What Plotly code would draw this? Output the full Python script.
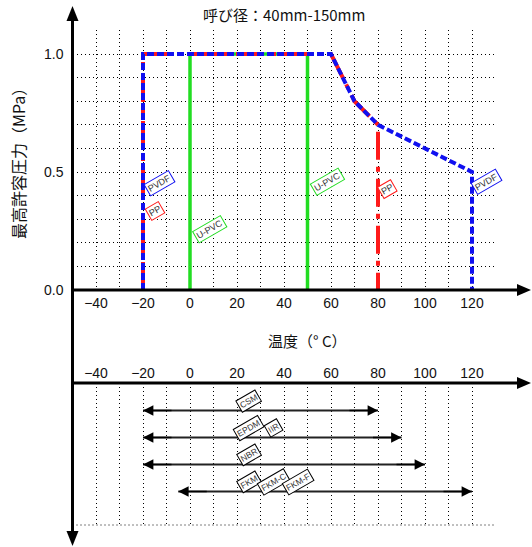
import plotly.graph_objects as go

# ---------------- data ----------------
temp_grid = list(range(-50, 131, 10))
temp_tick_values = [-40, -20, 0, 20, 40, 60, 80, 100, 120]
pressure_grid = [round(0.1 * i, 1) for i in range(0, 12)]
pressure_tick_values = [0.0, 0.5, 1.0]

upvc_temp = [0, 0, 50, 50]
upvc_pressure = [0.0, 1.0, 1.0, 0.0]
pp_temp = [-20, -20, 60, 70, 80, 80]
pp_pressure = [0.0, 1.0, 1.0, 0.8, 0.7, 0.0]
pvdf_temp = [-20, -20, 60, 70, 80, 120, 120]
pvdf_pressure = [0.0, 1.0, 1.0, 0.8, 0.7, 0.5, 0.0]

seal_groups = [["CSM"], ["EPDM", "IIR"], ["NBR"], ["FKM", "FKM-C", "FKM-F"]]
seal_tmin = [-20, -20, -20, -5]
seal_tmax = [80, 90, 100, 120]

title_text = "呼び径：40mm-150mm"
ytitle_text = "最高許容圧力（MPa）"
xtitle_text = "温度（° C）"

# ---------------- style ----------------
W, H = 532, 547
FONT = "Liberation Sans, Noto Sans CJK JP, sans-serif"
JP = "Noto Sans CJK JP, Liberation Sans, sans-serif"
GREEN, RED, BLUE = "#22dd22", "#ff1a1a", "#1010f0"
DOT = "1px,3px"

def px(x):
    return x / W

def py(y):
    return 1 - y / H

def fmt(v):
    return str(v).replace("-", "\u2212")

temp_text = [fmt(t) if t in temp_tick_values else "" for t in temp_grid]
pres_text = [f"{p:.1f}" if p in pressure_tick_values else "" for p in pressure_grid]

X0, X1 = 72.5, 495.5          # pixel span of -50..130
TOP_Y0, TOP_Y1 = 290, 30.4    # pixel span of 0..1.1
BOT_Y0, BOT_Y1 = 383, 525
ROW_OFF, ROW_STEP = 383.5, 27.0

fig = go.Figure()

# top chart
fig.add_trace(go.Scatter(x=upvc_temp, y=upvc_pressure, mode="lines",
                         line=dict(color=GREEN, width=3.5), xaxis="x", yaxis="y"))
fig.add_trace(go.Scatter(x=pp_temp, y=pp_pressure, mode="lines",
                         line=dict(color=RED, width=4, dash="28px,7px,5px,7px"),
                         xaxis="x", yaxis="y"))
fig.add_trace(go.Scatter(x=pvdf_temp, y=pvdf_pressure, mode="lines",
                         line=dict(color=BLUE, width=4, dash="7px,3px"),
                         xaxis="x", yaxis="y"))

annotations = []

def tag(text, x, y, color, size=9, xref="x", yref="y"):
    annotations.append(dict(text=text, x=x, y=y, xref=xref, yref=yref, showarrow=False,
                            textangle=-30, font=dict(family=FONT, size=size, color="#333"),
                            bordercolor=color, borderwidth=1, borderpad=1, bgcolor="white",
                            xanchor="center", yanchor="middle"))

tag("PVDF", -12.8, 0.453, BLUE)
tag("PP", -14.9, 0.335, RED)
tag("U-PVC", 8.5, 0.26, GREEN)
tag("U-PVC", 58.3, 0.458, GREEN)
tag("PP", 84, 0.43, RED)
tag("PVDF", 126, 0.458, BLUE)

# bottom chart
for i, (names, lo, hi) in enumerate(zip(seal_groups, seal_tmin, seal_tmax)):
    row = i + 1
    fig.add_trace(go.Scatter(x=[lo, hi], y=[row, row], mode="lines",
                             line=dict(color="#222", width=1.8), xaxis="x2", yaxis="y2"))
    for tip, off in ((hi, -30), (lo, 30)):
        annotations.append(dict(x=tip, y=row, xref="x2", yref="y2", ax=off, ay=0,
                                text="", showarrow=True, arrowhead=2, arrowsize=1.3,
                                arrowwidth=1.6, arrowcolor="black", standoff=0))
    for j, n in enumerate(names):
        tag(n, 25 + 10.5 * j, row - 0.36, "black", size=8.5, xref="x2", yref="y2")

# titles
def title(text, x, y, size, angle=0):
    annotations.append(dict(text=text, x=px(x), y=py(y), xref="paper", yref="paper",
                            showarrow=False, textangle=angle, xanchor="center",
                            yanchor="middle", font=dict(family=JP, size=size, color="#111")))

title(title_text, 284, 14, 15)
title(ytitle_text, 18, 160, 16, -90)
title(xtitle_text, 307, 340, 15)

# axis lines + arrow heads
shapes = []
def line(x0, y0, x1, y1, w=3):
    shapes.append(dict(type="line", xref="paper", yref="paper", x0=px(x0), y0=py(y0),
                       x1=px(x1), y1=py(y1), line=dict(color="black", width=w)))

def tri(pts):
    path = "M " + " L ".join(f"{px(a)},{py(b)}" for a, b in pts) + " Z"
    shapes.append(dict(type="path", xref="paper", yref="paper", path=path,
                       fillcolor="black", line=dict(color="black", width=0)))

line(X0, 20, X0, 533)
line(X0, TOP_Y0, 519, TOP_Y0)
line(X0, BOT_Y0, 519, BOT_Y0)
tri([(X0, 6), (X0 - 6, 21), (X0 + 6, 21)])
tri([(X0, 546), (X0 - 6, 531), (X0 + 6, 531)])
tri([(531, TOP_Y0), (517, TOP_Y0 - 6), (517, TOP_Y0 + 6)])
tri([(531, BOT_Y0), (517, BOT_Y0 - 6), (517, BOT_Y0 + 6)])
shapes.append(dict(type="line", xref="x2", yref="y2 domain", x0=-50, x1=130, y0=0, y1=0,
                   line=dict(color="black", width=1, dash=DOT)))

axis_common = dict(showline=False, zeroline=False, ticks="", showgrid=True, automargin=False,
                   gridcolor="black", gridwidth=1, griddash=DOT,
                   tickfont=dict(family=FONT, size=14, color="#111"))

fig.update_layout(
    template="none",
    width=W, height=H, margin=dict(l=0, r=0, t=0, b=0, pad=0, autoexpand=False),
    paper_bgcolor="white", plot_bgcolor="white", showlegend=False,
    xaxis=dict(domain=[px(X0), px(X1)], range=[-50, 130], anchor="y",
               tickmode="array", tickvals=temp_grid, ticktext=temp_text,
               ticklabelstandoff=3, **axis_common),
    yaxis=dict(domain=[py(TOP_Y0), py(TOP_Y1)], range=[0, 1.1], anchor="x",
               tickmode="array", tickvals=pressure_grid, ticktext=pres_text,
               ticklabelstandoff=8, **axis_common),
    xaxis2=dict(domain=[px(X0), px(X1)], range=[-50, 130], anchor="y2", side="top",
                tickmode="array", tickvals=temp_grid, ticktext=temp_text,
                ticklabelstandoff=1, **axis_common),
    yaxis2=dict(domain=[py(BOT_Y1), py(BOT_Y0)],
                range=[(BOT_Y1 - ROW_OFF) / ROW_STEP, (BOT_Y0 - ROW_OFF) / ROW_STEP],
                anchor="x2", showgrid=False, showticklabels=False, zeroline=False,
                showline=False, ticks="", automargin=False),
    annotations=annotations, shapes=shapes,
)

fig.write_html("out.html")
